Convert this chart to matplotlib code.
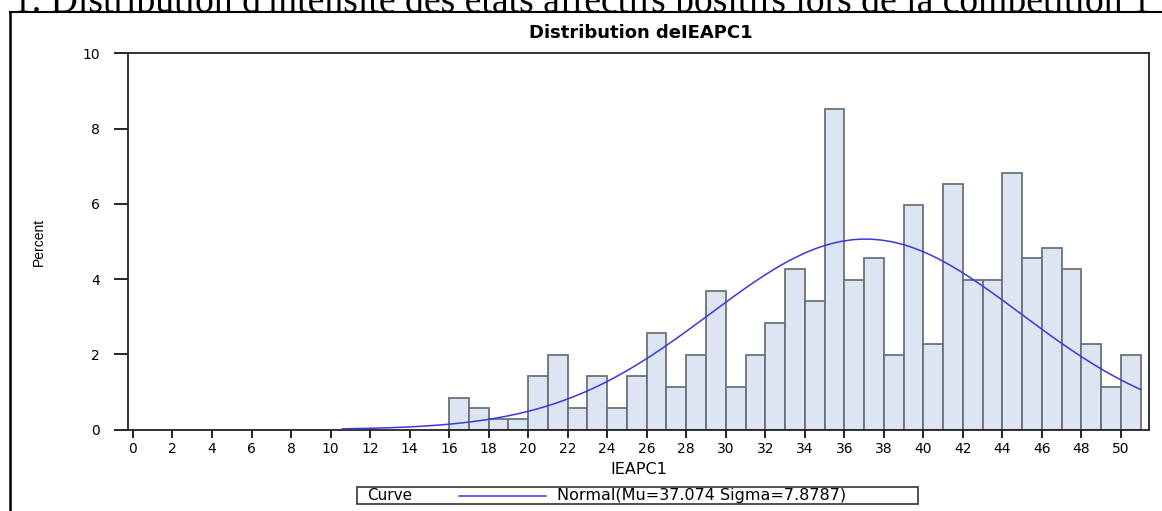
import numpy as np
import matplotlib
matplotlib.use("Agg")
import matplotlib.pyplot as plt
from matplotlib.patches import Rectangle
from matplotlib.lines import Line2D

# ---- data ----
bin_left = list(range(16, 51))  # IEAPC1 bins of width 1
percent = [0.85, 0.57, 0.28, 0.28, 1.42, 1.99, 0.57, 1.42, 0.57, 1.42,
           2.56, 1.14, 1.99, 3.69, 1.14, 1.99, 2.84, 4.26, 3.41, 8.52,
           3.98, 4.55, 1.99, 5.97, 2.27, 6.53, 3.98, 3.98, 6.82, 4.55,
           4.83, 4.26, 2.27, 1.14, 1.99]
mu = 37.074
sigma = 7.8787
curve_range = (10.6, 51.0)
x_ticks = list(range(0, 51, 2))
y_ticks = [0, 2, 4, 6, 8, 10]
page_title = "1. Distribution d'intensité des états affectifs positifs lors de la compétition 1"
chart_title = "Distribution deIEAPC1"
legend_text = "Normal(Mu=37.074 Sigma=7.8787)"

W, H = 1162, 511
fig = plt.figure(figsize=(W / 100, H / 100), dpi=100)
fig.patch.set_facecolor("white")

def fx(px):
    return px / W

def fy(py):
    return 1 - py / H

# axes
ax_l, ax_r, ax_t, ax_b = 128, 1149, 53.5, 429.5
ax = fig.add_axes([fx(ax_l), fy(ax_b), fx(ax_r - ax_l), (ax_b - ax_t) / H])
ax.set_zorder(1)

ax.bar(bin_left, percent, width=1.0, align="edge", color="#DCE5F1",
       edgecolor="#6a7278", linewidth=1.3, zorder=2)

xs = np.linspace(curve_range[0], curve_range[1], 400)
ys = 100.0 * 1.0 / (sigma * np.sqrt(2 * np.pi)) * np.exp(-0.5 * ((xs - mu) / sigma) ** 2)
ax.plot(xs, ys, color="#3838e0", linewidth=1.1, zorder=3)

ax.set_xlim(-0.25, 51.42)
ax.set_ylim(0, 10)
ax.set_xticks(x_ticks)
ax.set_xticklabels([str(t) for t in x_ticks])
ax.set_yticks(y_ticks)
ax.set_yticklabels([str(t) for t in y_ticks])
ax.tick_params(axis="x", direction="out", length=6, width=1.2, pad=3,
               labelsize=10, colors="black")
ax.tick_params(axis="y", direction="out", length=10, width=1.2, pad=10,
               labelsize=10, colors="black")
for lab in ax.get_xticklabels() + ax.get_yticklabels():
    lab.set_fontfamily("DejaVu Sans")
for sp in ax.spines.values():
    sp.set_linewidth(1.3)
    sp.set_color("#222222")

ax.set_xlabel("IEAPC1", fontsize=11.5, family="DejaVu Sans", labelpad=4)
fig.text(fx(39), fy(242), "Percent", rotation=90, ha="center", va="center",
         fontsize=10, family=["Liberation Sans Narrow", "Liberation Sans", "DejaVu Sans"])

fig.text(fx(641), fy(33), chart_title, ha="center", va="center",
         fontsize=13, fontweight="bold", family="DejaVu Sans")

# page title (clipped at the top of the image, bottom covered by chart)
t = fig.text(fx(13), fy(11.5), page_title, ha="left", va="baseline",
             family=["Liberation Serif", "DejaVu Serif"], fontsize=22, zorder=-3)
fig.canvas.draw()
bb = t.get_window_extent(renderer=fig.canvas.get_renderer())
t.set_fontsize(22 * (1132.0 / bb.width))

fig.add_artist(Rectangle((0, 0), 1, fy(12.5), transform=fig.transFigure,
                         facecolor="white", edgecolor="none", zorder=-2))
# page frame
fig.add_artist(Line2D([fx(10), 1.0], [fy(12), fy(12)], transform=fig.transFigure,
                      color="black", linewidth=1.5, zorder=-1))
fig.add_artist(Line2D([fx(10), fx(10)], [fy(12), 0], transform=fig.transFigure,
                      color="black", linewidth=1.8, zorder=-1))

# legend box
fig.add_artist(Rectangle((fx(357), fy(504)), fx(918 - 357), (504 - 487) / H,
                         transform=fig.transFigure, facecolor="white",
                         edgecolor="#333333", linewidth=1.2, zorder=2))
fig.text(fx(367), fy(495.5), "Curve", ha="left", va="center", fontsize=11,
         family="DejaVu Sans", zorder=3)
fig.add_artist(Line2D([fx(459), fx(546)], [fy(495.5), fy(495.5)],
                      transform=fig.transFigure, color="#3838e0", linewidth=1.1, zorder=3))
fig.text(fx(557), fy(495.5), legend_text, ha="left", va="center", fontsize=11.5,
         family="DejaVu Sans", zorder=3)

fig.savefig("out.png", dpi=100)
